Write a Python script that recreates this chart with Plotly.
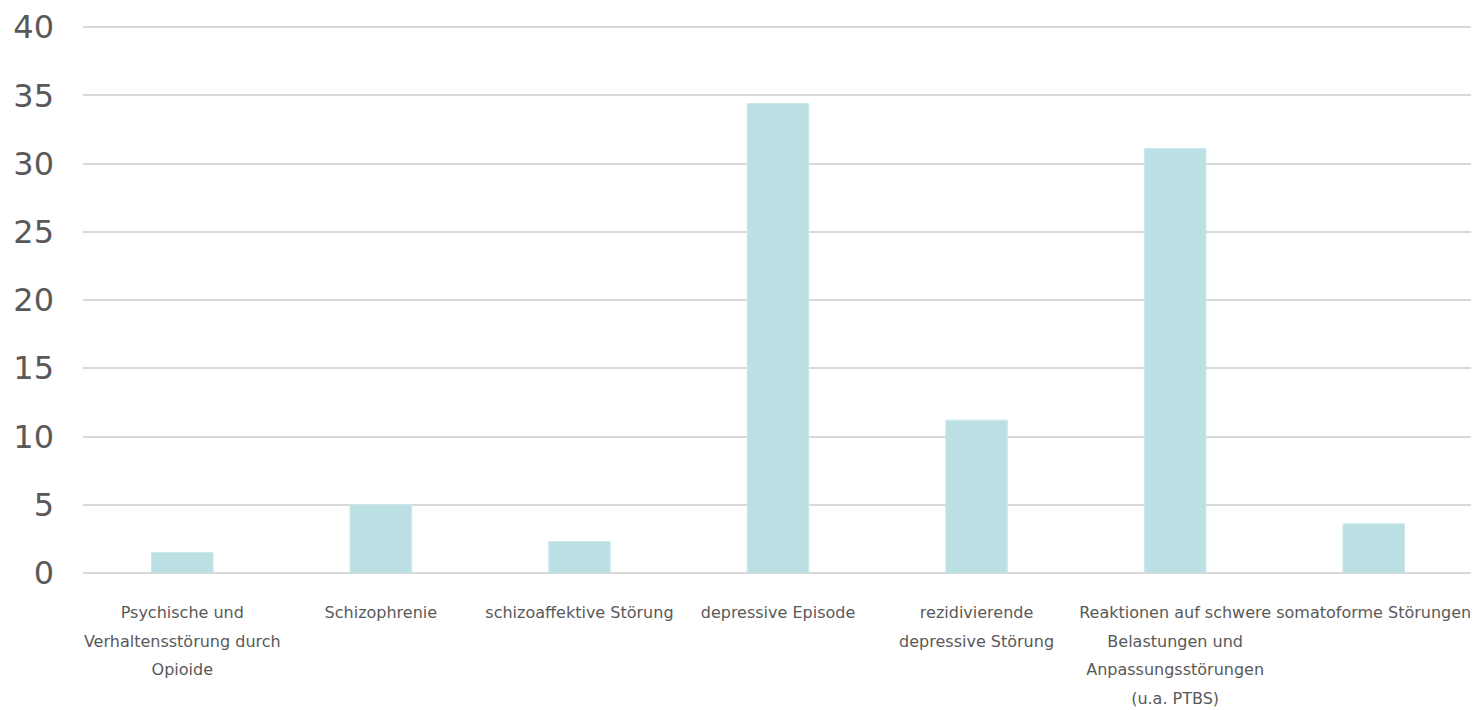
import plotly.graph_objects as go

categories = [
    "Psychische und<br>Verhaltensstörung durch<br>Opioide",
    "Schizophrenie",
    "schizoaffektive Störung",
    "depressive Episode",
    "rezidivierende<br>depressive Störung",
    "Reaktionen auf schwere<br>Belastungen und<br>Anpassungsstörungen<br>(u.a. PTBS)",
    "somatoforme Störungen",
]
values = [1.5, 5.0, 2.3, 34.4, 11.2, 31.1, 3.6]
y_ticks = [0, 5, 10, 15, 20, 25, 30, 35, 40]

labels = [
    "<br>".join('<span style="font-size:16px">' + part + "</span>" for part in c.split("<br>"))
    for c in categories
]

fig = go.Figure(
    go.Bar(
        x=list(range(len(categories))),
        y=values,
        width=0.31,
        marker=dict(color="#bbe0e3", line=dict(color="#c9e8ea", width=1)),
    )
)

# page body has an 8px default margin, so the figure is sized to fit the window
fig.update_layout(
    width=1471,
    height=702,
    margin=dict(l=75, r=6, t=18, b=137),
    plot_bgcolor="white",
    paper_bgcolor="white",
    showlegend=False,
    font=dict(family="DejaVu Sans", color="#595959"),
)
fig.update_xaxes(
    tickmode="array",
    tickvals=list(range(len(categories))),
    ticktext=labels,
    tickfont=dict(size=22, color="#595959"),
    range=[-0.5, len(categories) - 0.5],
    showgrid=False,
    showline=False,
    ticks="",
    tickangle=0,
    automargin=False,
    ticklabelstandoff=22,
)
fig.update_yaxes(
    range=[0, 40.08],
    tickmode="array",
    tickvals=y_ticks,
    tickfont=dict(size=32, color="#595959", family="DejaVu Sans"),
    gridcolor="#d9d9d9",
    gridwidth=2,
    zeroline=True,
    zerolinecolor="#d9d9d9",
    zerolinewidth=2,
    showline=False,
    ticks="",
    ticklabelstandoff=28,
    automargin=False,
)

fig.write_html("out.html")
